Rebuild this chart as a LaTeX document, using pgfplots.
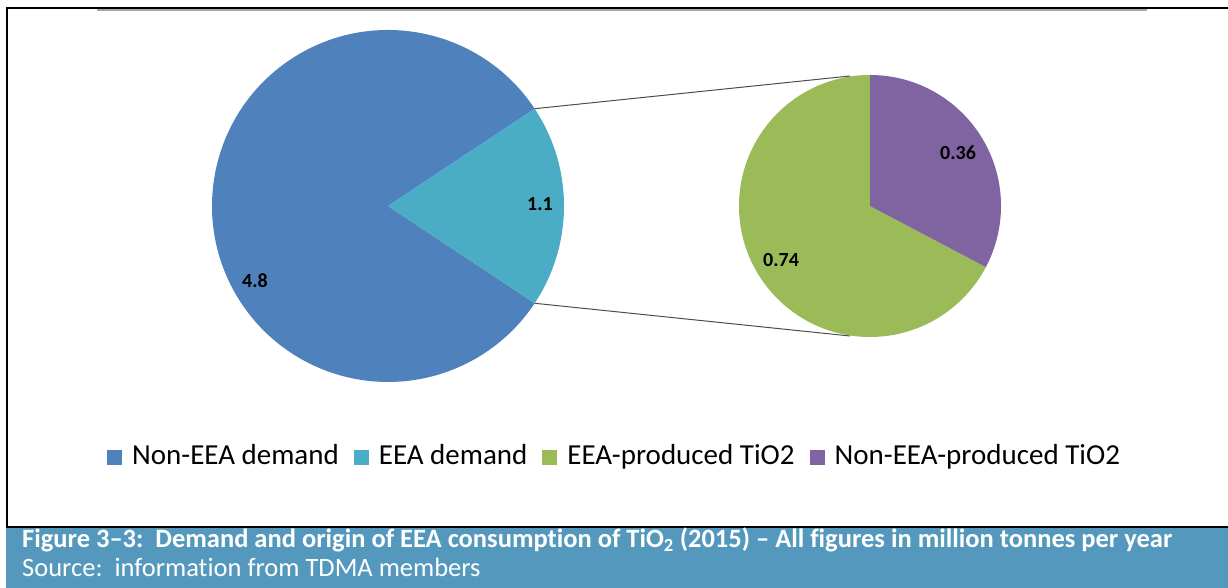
\documentclass[border=0pt]{standalone}
\usepackage{fontspec}
\setmainfont{Carlito}[Ligatures=NoCommon]
\usepackage{pgfplots}
\usepackage{pgfplotstable}
\pgfplotsset{compat=1.18}

\definecolor{nonEEAdem}{HTML}{4F81BD}
\definecolor{EEAdem}{HTML}{4BACC6}
\definecolor{EEAprod}{HTML}{9BBB59}
\definecolor{nonEEAprod}{HTML}{8064A2}
\definecolor{capblue}{RGB}{84,153,189}
\definecolor{topgrey}{RGB}{166,166,166}

% million tonnes per year
\pgfplotstableread{
part value
NonEEAdemand 4.8
EEAdemand 1.1
}\mainpie
\pgfplotstableread{
part value
EEAproduced 0.74
NonEEAproduced 0.36
}\subpie

\begin{document}
\begin{tikzpicture}[x=1pt,y=1pt]
\useasboundingbox (0,0) rectangle (1228,588);

% frame and caption band
\fill[capblue] (6,0) rectangle (1228,60);
\fill[black] (6,60) rectangle (1228,61.5);
\fill[black] (6,60) rectangle (8,580.8);
\fill[topgrey] (97,577) rectangle (1147,578.5);
\fill[black] (6,578.6) rectangle (1228,580.6);

\pgfplotstablegetelem{0}{value}\of\mainpie \let\vNonDem\pgfplotsretval
\pgfplotstablegetelem{1}{value}\of\mainpie \let\vDem\pgfplotsretval
\pgfplotstablegetelem{0}{value}\of\subpie \let\vProd\pgfplotsretval
\pgfplotstablegetelem{1}{value}\of\subpie \let\vImp\pgfplotsretval

% big pie: centre (388,382), r=176; small pie: centre (870,382), r=131
\pgfmathsetmacro\half{180*\vDem/(\vNonDem+\vDem)}
\pgfmathsetmacro\mainEnd{360-\half}
\pgfmathsetmacro\negHalf{-\half}
\pgfmathsetmacro\pAx{388+176*cos(\half)}
\pgfmathsetmacro\pAy{382+176*sin(\half)}
\pgfmathsetmacro\pBy{382-176*sin(\half)}
\pgfmathsetmacro\impEnd{90-360*\vImp/(\vProd+\vImp)}
\pgfmathsetmacro\prodEnd{360+\impEnd}

\begin{axis}[
  x=1pt, y=1pt,
  xmin=0, xmax=1228, ymin=0, ymax=588,
  hide axis, clip=false,
  at={(0,0)}, anchor=south west,
  legend columns=-1,
  legend image code/.code={\fill[#1] (0pt,-7.5pt) rectangle (15pt,7.5pt);},
  legend style={at={(0.08713,0.20918)}, anchor=south west,
    draw=none, fill=none, inner sep=0pt,
    font=\fontsize{29}{34}\selectfont,
    nodes={inner sep=0pt, text height=15pt, text depth=0pt},
    /tikz/every odd column/.append style={column sep=10pt},
    /tikz/every even column/.append style={column sep=15pt}},
]
\edef\slices{%
\noexpand\addplot[fill=nonEEAdem, draw=none] coordinates {(388,382) (\pAx,\pAy)}
  arc[start angle=\half, end angle=\mainEnd, radius=176pt] -- cycle;
\noexpand\addlegendentry{Non-EEA demand}
\noexpand\addplot[fill=EEAdem, draw=none] coordinates {(388,382) (\pAx,\pBy)}
  arc[start angle=\negHalf, end angle=\half, radius=176pt] -- cycle;
\noexpand\addlegendentry{EEA demand}
\noexpand\addplot[fill=EEAprod, draw=none] coordinates {(870,382) (870,513)}
  arc[start angle=90, end angle=\prodEnd, radius=131pt] -- cycle;
\noexpand\addlegendentry{EEA-produced TiO2}
\noexpand\addplot[fill=nonEEAprod, draw=none] coordinates {(870,382) (870,513)}
  arc[start angle=90, end angle=\impEnd, radius=131pt] -- cycle;
\noexpand\addlegendentry{Non-EEA-produced TiO2}
\noexpand\addplot[forget plot, draw=black!70, line width=1pt] coordinates {(\pAx,\pAy) (850,512)};
\noexpand\addplot[forget plot, draw=black!70, line width=1pt] coordinates {(\pAx,\pBy) (850,252)};
}
\slices

\begin{scope}[font=\bfseries\fontsize{20}{24}\selectfont]
\node at (axis cs:255,307) {\vNonDem};
\node at (axis cs:540,384) {\vDem};
\node at (axis cs:781,328) {\vProd};
\node at (axis cs:958,435) {\vImp};
\end{scope}
\end{axis}

\node[anchor=base west, inner sep=0pt, text=white,
  font=\bfseries\fontsize{26.5}{30}\selectfont] at (22,40)
  {Figure 3–3:\hspace{0.45em}Demand and origin of EEA consumption of TiO\textsubscript{2} (2015) – All figures in million tonnes per year};
\node[anchor=base west, inner sep=0pt, text=white,
  font=\fontsize{26.5}{30}\selectfont] at (22,11)
  {Source:\hspace{0.45em}information from TDMA members};
\end{tikzpicture}
\end{document}
